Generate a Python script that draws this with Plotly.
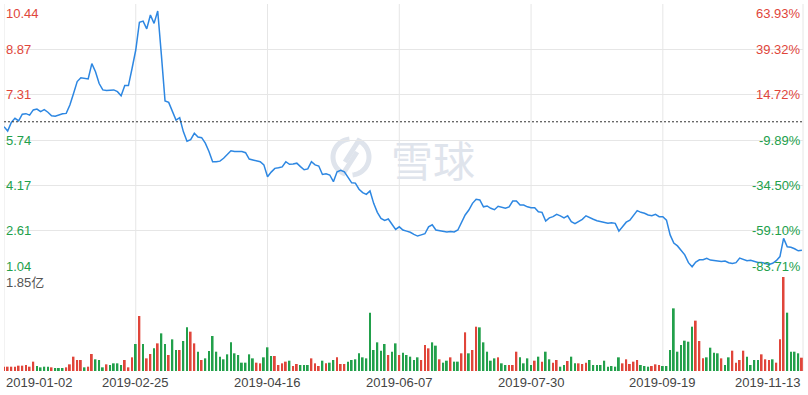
import math
import plotly.graph_objects as go

# ---------------- data ----------------
base_price = 6.37
price_levels = [10.44, 8.87, 7.31, 5.74, 4.17, 2.61, 1.04]
pct_labels = ["63.93%", "39.32%", "14.72%", "-9.89%", "-34.50%", "-59.10%", "-83.71%"]
date_ticks = [0, 36, 72, 108, 144, 180, 218]
date_labels = ["2019-01-02", "2019-02-25", "2019-04-16", "2019-06-07",
               "2019-07-30", "2019-09-19", "2019-11-13"]
vol_max_label = "1.85亿"
vol_max = 1.85

prices = [
    6.20, 6.05, 6.35, 6.49, 6.40, 6.63, 6.65, 6.60, 6.78, 6.81,
    6.72, 6.79, 6.70, 6.58, 6.56, 6.60, 6.65, 6.66, 6.95, 7.35,
    7.76, 7.89, 7.87, 7.85, 8.38, 8.10, 7.69, 7.47, 7.45, 7.47,
    7.47, 7.41, 7.27, 7.62, 7.62, 8.22, 8.85, 9.81, 9.85, 9.58,
    10.06, 9.77, 10.20, 8.68, 7.09, 7.04, 6.74, 6.43, 6.51, 6.03,
    5.70, 5.75, 5.97, 5.84, 5.82, 5.63, 5.34, 4.99, 4.99, 5.01,
    5.11, 5.24, 5.37, 5.34, 5.34, 5.34, 5.30, 5.08, 5.05, 5.03,
    4.99, 4.88, 4.47, 4.63, 4.76, 4.78, 4.81, 4.99, 4.90, 4.91,
    4.94, 4.82, 4.71, 4.74, 4.99, 4.88, 4.84, 4.55, 4.57, 4.53,
    4.30, 4.64, 4.69, 4.64, 4.47, 4.26, 4.25, 4.04, 3.92, 3.86,
    3.98, 3.55, 3.24, 3.03, 2.96, 3.01, 2.83, 2.65, 2.74, 2.63,
    2.59, 2.55, 2.48, 2.42, 2.46, 2.50, 2.74, 2.81, 2.63, 2.61,
    2.58, 2.56, 2.58, 2.56, 2.63, 2.92, 3.15, 3.32, 3.55, 3.69,
    3.67, 3.43, 3.46, 3.38, 3.33, 3.45, 3.41, 3.38, 3.43, 3.63,
    3.63, 3.49, 3.49, 3.43, 3.40, 3.40, 3.26, 3.24, 2.94, 3.05,
    3.09, 3.17, 3.12, 3.05, 3.12, 2.92, 2.85, 2.92, 3.00, 3.12,
    3.05, 3.00, 2.95, 2.92, 2.90, 2.86, 2.88, 2.86, 2.59, 2.74,
    2.90, 2.97, 3.12, 3.30, 3.24, 3.21, 3.15, 3.12, 3.17, 3.09,
    3.09, 2.97, 2.46, 2.18, 2.08, 1.94, 1.77, 1.50, 1.36, 1.52,
    1.60, 1.60, 1.65, 1.59, 1.57, 1.55, 1.54, 1.56, 1.50, 1.47,
    1.50, 1.66, 1.62, 1.57, 1.58, 1.54, 1.51, 1.51, 1.48, 1.44,
    1.48, 1.57, 1.71, 2.34, 2.05, 2.03, 1.98, 1.91, 1.93,
]

volumes = [  # 亿
    0.085, 0.085, 0.085, 0.085, 0.105, 0.105, 0.118, 0.085, 0.184, 0.098,
    0.072, 0.085, 0.085, 0.072, 0.059, 0.059, 0.059, 0.072, 0.131, 0.282,
    0.216, 0.216, 0.072, 0.085, 0.335, 0.230, 0.216, 0.072, 0.131, 0.118,
    0.151, 0.151, 0.118, 0.216, 0.072, 0.269, 0.531, 1.082, 0.531, 0.249,
    0.335, 0.446, 0.544, 0.741, 0.531, 0.315, 0.623, 0.413, 0.413, 0.590,
    0.859, 0.774, 0.544, 0.380, 0.216, 0.249, 0.394, 0.689, 0.380, 0.282,
    0.230, 0.328, 0.564, 0.348, 0.315, 0.164, 0.164, 0.328, 0.249, 0.164,
    0.151, 0.269, 0.466, 0.295, 0.295, 0.118, 0.151, 0.184, 0.203, 0.098,
    0.138, 0.118, 0.118, 0.118, 0.249, 0.151, 0.098, 0.203, 0.151, 0.164,
    0.216, 0.269, 0.138, 0.138, 0.184, 0.216, 0.230, 0.348, 0.269, 0.249,
    1.148, 0.413, 0.564, 0.400, 0.531, 0.315, 0.380, 0.544, 0.315, 0.361,
    0.315, 0.282, 0.216, 0.269, 0.216, 0.512, 0.446, 0.564, 0.499, 0.230,
    0.164, 0.203, 0.269, 0.184, 0.184, 0.348, 0.761, 0.348, 0.413, 0.872,
    0.859, 0.564, 0.380, 0.203, 0.249, 0.269, 0.151, 0.118, 0.118, 0.118,
    0.380, 0.269, 0.151, 0.249, 0.118, 0.203, 0.282, 0.184, 0.380, 0.230,
    0.164, 0.216, 0.085, 0.118, 0.197, 0.282, 0.151, 0.151, 0.138, 0.164,
    0.216, 0.118, 0.118, 0.118, 0.203, 0.085, 0.098, 0.085, 0.269, 0.151,
    0.230, 0.138, 0.184, 0.216, 0.118, 0.098, 0.085, 0.098, 0.131, 0.118,
    0.098, 0.098, 0.413, 1.233, 0.380, 0.512, 0.597, 0.577, 0.872, 0.991,
    0.590, 0.249, 0.269, 0.459, 0.361, 0.348, 0.249, 0.118, 0.269, 0.400,
    0.164, 0.216, 0.400, 0.282, 0.118, 0.216, 0.216, 0.328, 0.230, 0.216,
    0.230, 0.164, 0.623, 1.856, 1.148, 0.380, 0.380, 0.348, 0.262,
]

# 1 = up day (red), 0 = down day (green)
up_flags = [
    1, 1, 1, 1, 1, 1, 1, 1, 1, 0,
    0, 0, 0, 1, 0, 0, 0, 1, 1, 1,
    1, 1, 0, 1, 1, 0, 0, 0, 1, 0,
    0, 0, 0, 1, 1, 1, 0, 1, 0, 1,
    1, 0, 1, 0, 0, 1, 0, 0, 1, 0,
    0, 1, 1, 0, 1, 0, 0, 0, 0, 0,
    0, 0, 0, 0, 0, 0, 0, 0, 0, 1,
    1, 0, 0, 0, 1, 1, 1, 1, 0, 1,
    1, 0, 0, 0, 1, 1, 1, 0, 1, 0,
    0, 1, 1, 1, 0, 0, 0, 0, 0, 0,
    0, 0, 0, 0, 0, 1, 0, 0, 1, 0,
    0, 0, 0, 0, 1, 1, 1, 0, 0, 1,
    0, 0, 1, 0, 0, 1, 1, 0, 1, 1,
    0, 0, 0, 0, 0, 1, 0, 0, 1, 1,
    1, 0, 0, 0, 0, 1, 0, 1, 0, 0,
    1, 1, 0, 0, 1, 0, 0, 1, 1, 1,
    0, 0, 0, 0, 0, 0, 0, 0, 0, 1,
    1, 1, 1, 1, 0, 0, 0, 1, 1, 1,
    0, 0, 0, 0, 0, 0, 0, 0, 0, 1,
    1, 1, 0, 0, 0, 0, 1, 0, 0, 1,
    1, 1, 1, 0, 0, 0, 0, 1, 1, 1,
    0, 1, 1, 1, 0, 0, 0, 0, 1,
]

# ---------------- style ----------------
RED = "#e0453a"
GREEN = "#22a04b"
LINE = "#2d87e2"
GRID = "#e6e6e6"
WM = "#dfe4ec"
FONT = "Liberation Sans, Arial, Noto Sans CJK SC, sans-serif"

idx = list(range(len(prices)))
bar_colors = [RED if u else GREEN for u in up_flags]

fig = go.Figure()
fig.add_trace(go.Bar(x=idx, y=volumes, marker_color=bar_colors, marker_line_width=0,
                     width=0.5, yaxis="y2", hoverinfo="skip"))
fig.add_trace(go.Scatter(x=idx, y=prices, mode="lines",
                         line=dict(color=LINE, width=1.5), yaxis="y"))

x_max = 218.3
H_PLOT = 395 - 4 - 24
W_PLOT = 808 - 4 - 5
price_bottom = (371 - 276) / H_PLOT
vol_top = (371 - 277) / H_PLOT


def px(xp):
    return (xp - 4) / W_PLOT


def py(yp):
    return (371 - yp) / H_PLOT


def wm_piece(cx, cy, r, a0, a1, hook):
    """Watermark logo stroke: arc (screen degrees) plus inward hook, in paper coords."""
    pts = []
    steps = 24
    for s in range(steps + 1):
        a = math.radians(a0 + (a1 - a0) * s / steps)
        pts.append((cx + r * math.cos(a), cy + r * math.sin(a)))
    pts.append(hook)
    d = "M " + " L ".join(f"{px(x):.5f},{py(y):.5f}" for x, y in pts)
    return d


fig.update_layout(
    width=808, height=395,
    margin=dict(l=4, r=5, t=4, b=24),
    paper_bgcolor="white", plot_bgcolor="white",
    showlegend=False,
    font=dict(family=FONT, size=13),
    xaxis=dict(range=[0, x_max], showgrid=False, showticklabels=False,
               zeroline=False, showline=False, ticks="", anchor="y2", fixedrange=True),
    yaxis=dict(domain=[price_bottom, 1], range=[price_levels[-1], price_levels[0]],
               tickvals=price_levels, showgrid=True, gridcolor=GRID, gridwidth=1,
               showticklabels=False, zeroline=False, showline=False, ticks=""),
    yaxis2=dict(domain=[0, vol_top], range=[0, vol_max], showgrid=False,
                showticklabels=False, zeroline=False, showline=False, ticks=""),
)

shapes = []
# watermark logo (two interlocking hooked arcs)
shapes.append(dict(type="path", xref="paper", yref="paper",
                   path=wm_piece(351, 157, 18, -95, -245, (357, 152)),
                   line=dict(color=WM, width=5), layer="below"))
shapes.append(dict(type="path", xref="paper", yref="paper",
                   path=wm_piece(351, 157, 18, 85, -65, (345, 162)),
                   line=dict(color=WM, width=5), layer="below"))
for t in date_ticks[:-1]:
    shapes.append(dict(type="line", xref="x", yref="paper", x0=t, x1=t, y0=0, y1=1,
                       line=dict(color=GRID, width=1), layer="below"))
shapes.append(dict(type="line", xref="paper", yref="paper", x0=1, x1=1, y0=0, y1=1,
                   line=dict(color=GRID, width=1), layer="below"))
shapes.append(dict(type="line", xref="paper", yref="y", x0=0, x1=1, y0=base_price, y1=base_price,
                   line=dict(color="#333333", width=1, dash="2px,2px")))
fig.update_layout(shapes=shapes)

ann = []
# watermark text
ann.append(dict(xref="paper", yref="paper", x=px(433), y=py(158), text="雪球",
                showarrow=False, font=dict(family="Noto Sans CJK SC", size=42, color=WM)))
n = len(price_levels)
for k, (lv, pl) in enumerate(zip(price_levels, pct_labels)):
    col = RED if lv > base_price else GREEN
    if k == 0:
        ya = "top"
    elif k == n - 1:
        ya = "bottom"
    else:
        ya = "middle"
    ann.append(dict(xref="paper", yref="y", x=0, y=lv, text=f"{lv:.2f}",
                    xanchor="left", yanchor=ya, showarrow=False,
                    font=dict(color=col, size=13)))
    ann.append(dict(xref="paper", yref="y", x=1, y=lv, text=pl,
                    xanchor="right", yanchor=ya, showarrow=False,
                    font=dict(color=col, size=13)))
ann.append(dict(xref="paper", yref="y2", x=0, y=vol_max, text=vol_max_label,
                xanchor="left", yanchor="top", yshift=4, showarrow=False,
                font=dict(color="#555555", size=13)))
for t, lab in zip(date_ticks, date_labels):
    if t == 0:
        xa, xv, xr = "left", 0, "paper"
    elif t == date_ticks[-1]:
        xa, xv, xr = "right", 1, "paper"
    else:
        xa, xv, xr = "center", t, "x"
    ann.append(dict(xref=xr, yref="paper", x=xv, y=0, text=lab, xanchor=xa,
                    yanchor="top", yshift=-2, showarrow=False,
                    font=dict(color="#444444", size=13)))
fig.update_layout(annotations=ann)

fig.write_html("out.html")
